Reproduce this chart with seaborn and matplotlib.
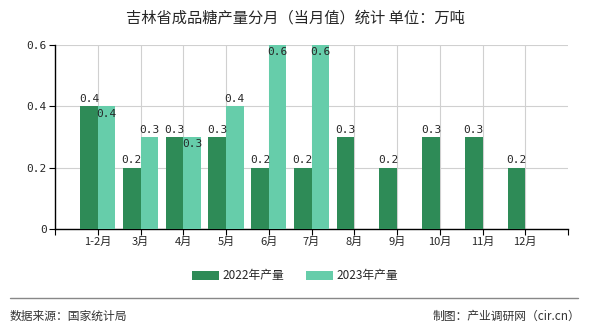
import matplotlib
matplotlib.use("Agg")
import matplotlib.pyplot as plt
import seaborn as sns
import pandas as pd

months = ["1-2月", "3月", "4月", "5月", "6月", "7月", "8月", "9月", "10月", "11月", "12月"]
series_names = ["2022年产量", "2023年产量"]
values_2022 = [0.4, 0.2, 0.3, 0.3, 0.2, 0.2, 0.3, 0.2, 0.3, 0.3, 0.2]
values_2023 = [0.4, 0.3, 0.3, 0.4, 0.6, 0.6, None, None, None, None, None]
y_ticks = [0, 0.2, 0.4, 0.6]
y_tick_labels = ["0", "0.2", "0.4", "0.6"]
colors = ["#2e8b57", "#66cdaa"]

sns.set_theme(style="white")
plt.rcParams['font.family'] = ['Noto Sans CJK SC', 'DejaVu Sans']

rows = []
for m, v in zip(months, values_2022):
    rows.append({"month": m, "series": series_names[0], "value": v})
for m, v in zip(months, values_2023):
    if v is not None:
        rows.append({"month": m, "series": series_names[1], "value": v})
df = pd.DataFrame(rows)

fig = plt.figure(figsize=(5.9, 3.3), dpi=100)
ax = fig.add_axes([55/590, 1-229/330, (568-55)/590, (229-45)/330])

sns.barplot(data=df, x="month", y="value", hue="series", order=months,
            hue_order=series_names, palette=colors, width=0.82, ax=ax,
            saturation=1, legend=False, zorder=3, linewidth=0, edgecolor="none")

ymax = 0.6
ax.set_ylim(0, ymax)
ax.set_xlim(-1, len(months))
ax.set_yticks(y_ticks)
ax.set_yticklabels(y_tick_labels, family="DejaVu Sans Mono", fontsize=8)
ax.set_xticks(range(len(months)))
ax.set_xticklabels(months, fontsize=8)
ax.set_xlabel("")
ax.set_ylabel("")
ax.grid(True, color="#d0d0d0", linewidth=0.8, zorder=0)
ax.set_axisbelow(True)
for s in ["top", "right"]:
    ax.spines[s].set_visible(False)
ax.spines["left"].set_color("black")
ax.spines["bottom"].set_color("black")
ax.spines["left"].set_linewidth(1)
ax.spines["bottom"].set_linewidth(1)
ax.tick_params(axis="both", which="both", length=4, width=0.8, color="black",
               left=True, bottom=True, pad=2)

ax.set_xticks([-1, len(months)], minor=True)
ax.tick_params(axis="x", which="minor", length=4, width=0.8, color="black")

cont_22, cont_23 = ax.containers[0], ax.containers[1]
for bar, v in zip(cont_22, values_2022):
    x = bar.get_x() + bar.get_width() / 2
    ax.text(x, v + 0.008, f"{v:.1f}", ha="center", va="bottom",
            family="DejaVu Sans Mono", fontsize=8, zorder=5)
vals23 = [v for v in values_2023 if v is not None]
for i, (bar, v) in enumerate(zip(cont_23, vals23)):
    x = bar.get_x() + bar.get_width() / 2
    inside = (v == values_2022[i]) or (v >= ymax)
    if inside:
        ax.text(x, v - 0.008, f"{v:.1f}", ha="center", va="top",
                family="DejaVu Sans Mono", fontsize=8, zorder=5)
    else:
        ax.text(x, v + 0.008, f"{v:.1f}", ha="center", va="bottom",
                family="DejaVu Sans Mono", fontsize=8, zorder=5)

fig.text(0.5, 1-18/330, "吉林省成品糖产量分月（当月值）统计 单位：万吨",
         ha="center", va="center", fontsize=11, fontweight="medium")

from matplotlib.patches import Patch
handles = [Patch(facecolor=c, edgecolor="none") for c in colors]
fig.legend(handles, series_names, loc="center", bbox_to_anchor=(0.5, 1-276/330),
           ncol=2, frameon=False, fontsize=8.5, handlelength=2.3, handleheight=0.8,
           columnspacing=1.8, handletextpad=0.3)

fig.add_artist(plt.Line2D([10/590, 578/590], [1-298/330, 1-298/330],
                          color="#888888", linewidth=1, transform=fig.transFigure))
fig.text(10/590, 1-316/330, "数据来源：国家统计局", ha="left", va="center",
         fontsize=8.5, color="#333333")
fig.text(580/590, 1-316/330, "制图：产业调研网（cir.cn）", ha="right", va="center",
         fontsize=8.5, color="#333333")

fig.savefig("out.png", dpi=100)
